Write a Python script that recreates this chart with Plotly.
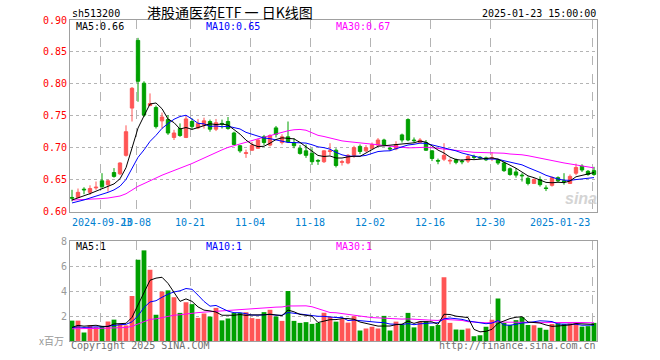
import plotly.graph_objects as go
import pandas as pd

# ---------------- data ----------------
dates = [
    "2024-09-12", "2024-09-13", "2024-09-18", "2024-09-19", "2024-09-20", "2024-09-23",
    "2024-09-24", "2024-09-25", "2024-09-26", "2024-09-27", "2024-09-30",
    "2024-10-08", "2024-10-09", "2024-10-10", "2024-10-11", "2024-10-14", "2024-10-15",
    "2024-10-16", "2024-10-17", "2024-10-18", "2024-10-21", "2024-10-22", "2024-10-23",
    "2024-10-24", "2024-10-25", "2024-10-28", "2024-10-29", "2024-10-30", "2024-10-31",
    "2024-11-01", "2024-11-04", "2024-11-05", "2024-11-06", "2024-11-07", "2024-11-08",
    "2024-11-11", "2024-11-12", "2024-11-13", "2024-11-14", "2024-11-15", "2024-11-18",
    "2024-11-19", "2024-11-20", "2024-11-21", "2024-11-22", "2024-11-25", "2024-11-26",
    "2024-11-27", "2024-11-28", "2024-11-29",
    "2024-12-02", "2024-12-03", "2024-12-04", "2024-12-05", "2024-12-06", "2024-12-09",
    "2024-12-10", "2024-12-11", "2024-12-12", "2024-12-13", "2024-12-16", "2024-12-17",
    "2024-12-18", "2024-12-19", "2024-12-20", "2024-12-23", "2024-12-24", "2024-12-25",
    "2024-12-26", "2024-12-27", "2024-12-30", "2024-12-31",
    "2025-01-02", "2025-01-03", "2025-01-06", "2025-01-07", "2025-01-08", "2025-01-09",
    "2025-01-10", "2025-01-13", "2025-01-14", "2025-01-15", "2025-01-16", "2025-01-17",
    "2025-01-20", "2025-01-21", "2025-01-22", "2025-01-23",
]

opens = [
    0.622, 0.622, 0.635, 0.630, 0.637, 0.648, 0.642, 0.661, 0.659, 0.688, 0.762,
    0.868, 0.801, 0.766, 0.763, 0.742, 0.744, 0.716, 0.730, 0.716, 0.741, 0.731,
    0.735, 0.741, 0.729, 0.738, 0.741, 0.723, 0.703, 0.691, 0.696, 0.699, 0.717,
    0.704, 0.731, 0.708, 0.717, 0.708, 0.699, 0.695, 0.691, 0.680, 0.678, 0.694,
    0.696, 0.677, 0.676, 0.688, 0.702, 0.695, 0.699, 0.704, 0.712, 0.699, 0.698,
    0.720, 0.744, 0.712, 0.708, 0.708, 0.695, 0.680, 0.682, 0.679, 0.681, 0.679,
    0.679, 0.686, 0.685, 0.684, 0.683, 0.681, 0.676, 0.667, 0.662, 0.657, 0.652,
    0.644, 0.650, 0.637, 0.641, 0.653, 0.648, 0.644, 0.660, 0.671, 0.663, 0.664,
]
highs = [
    0.634, 0.636, 0.638, 0.641, 0.647, 0.660, 0.650, 0.668, 0.677, 0.735, 0.795,
    0.872, 0.804, 0.785, 0.766, 0.755, 0.751, 0.728, 0.738, 0.751, 0.746, 0.745,
    0.747, 0.744, 0.745, 0.744, 0.748, 0.725, 0.704, 0.697, 0.709, 0.714, 0.720,
    0.721, 0.734, 0.721, 0.741, 0.715, 0.704, 0.705, 0.699, 0.682, 0.696, 0.707,
    0.699, 0.681, 0.690, 0.703, 0.705, 0.704, 0.708, 0.715, 0.714, 0.702, 0.710,
    0.722, 0.746, 0.716, 0.715, 0.712, 0.696, 0.683, 0.707, 0.683, 0.683, 0.682,
    0.689, 0.689, 0.687, 0.686, 0.693, 0.683, 0.678, 0.669, 0.668, 0.660, 0.655,
    0.652, 0.655, 0.641, 0.655, 0.655, 0.660, 0.658, 0.675, 0.674, 0.665, 0.670,
]
lows = [
    0.616, 0.621, 0.627, 0.626, 0.634, 0.636, 0.631, 0.653, 0.657, 0.686, 0.741,
    0.772, 0.748, 0.765, 0.730, 0.730, 0.720, 0.712, 0.717, 0.715, 0.729, 0.729,
    0.730, 0.725, 0.726, 0.730, 0.728, 0.704, 0.692, 0.684, 0.695, 0.698, 0.704,
    0.702, 0.716, 0.705, 0.708, 0.699, 0.689, 0.684, 0.673, 0.673, 0.676, 0.688,
    0.669, 0.672, 0.674, 0.684, 0.690, 0.693, 0.698, 0.703, 0.702, 0.695, 0.696,
    0.708, 0.710, 0.708, 0.707, 0.695, 0.679, 0.674, 0.679, 0.674, 0.674, 0.674,
    0.676, 0.682, 0.682, 0.679, 0.679, 0.673, 0.662, 0.656, 0.653, 0.647, 0.641,
    0.643, 0.639, 0.632, 0.639, 0.646, 0.642, 0.643, 0.657, 0.662, 0.656, 0.656,
]
closes = [
    0.621, 0.630, 0.634, 0.636, 0.638, 0.639, 0.648, 0.655, 0.676, 0.725, 0.793,
    0.804, 0.751, 0.769, 0.733, 0.748, 0.723, 0.723, 0.719, 0.745, 0.733, 0.738,
    0.742, 0.729, 0.739, 0.737, 0.730, 0.705, 0.695, 0.692, 0.704, 0.712, 0.708,
    0.719, 0.721, 0.717, 0.709, 0.703, 0.691, 0.688, 0.678, 0.679, 0.695, 0.695,
    0.672, 0.678, 0.688, 0.700, 0.694, 0.700, 0.705, 0.712, 0.704, 0.698, 0.705,
    0.712, 0.712, 0.711, 0.712, 0.696, 0.683, 0.679, 0.688, 0.680, 0.677, 0.678,
    0.686, 0.685, 0.684, 0.681, 0.684, 0.676, 0.664, 0.658, 0.657, 0.656, 0.644,
    0.650, 0.642, 0.636, 0.653, 0.648, 0.647, 0.655, 0.669, 0.665, 0.658, 0.658,
]
# volume, millions of shares
volumes = [
    1.63, 1.63, 0.68, 1.25, 1.10, 1.20, 1.56, 1.71, 1.35, 1.25, 3.60,
    6.50, 7.25, 5.70, 2.10, 3.95, 4.05, 3.50, 2.25, 3.10, 2.95, 1.85,
    2.20, 1.95, 2.65, 1.65, 1.80, 2.25, 2.25, 2.30, 1.83, 1.77, 2.31,
    2.50, 1.96, 1.61, 4.00, 1.61, 1.45, 1.51, 1.37, 1.45, 2.26, 1.94,
    1.55, 1.75, 1.47, 1.98, 0.84, 1.00, 1.14, 1.00, 2.01, 0.84, 1.55,
    1.32, 2.25, 1.09, 1.55, 1.58, 1.19, 1.28, 5.10, 1.45, 0.92, 0.90,
    1.00, 0.38, 0.46, 1.14, 1.70, 3.40, 1.45, 1.28, 1.67, 1.91, 1.28,
    1.26, 1.06, 0.90, 1.36, 1.41, 1.36, 1.41, 1.43, 1.15, 1.19, 1.45,
]
# estimated history before the first shown day (only used by the moving averages)
prior_closes = [
    0.622, 0.620, 0.618, 0.621, 0.624, 0.623, 0.620, 0.617, 0.619, 0.622,
    0.625, 0.623, 0.621, 0.618, 0.616, 0.619, 0.621, 0.620, 0.618, 0.615,
    0.610, 0.607, 0.606, 0.609, 0.612, 0.615, 0.617, 0.618, 0.619,
]
prior_volumes = [
    0.9, 1.1, 0.8, 1.0, 0.9, 1.2, 0.8, 0.9, 1.0, 0.7,
    0.9, 1.1, 0.8, 0.9, 1.0, 0.8, 0.9, 1.2, 0.8, 0.9,
    1.0, 1.1, 0.9, 1.0, 1.2, 0.8, 1.0, 1.1, 0.9,
]
tick_dates = ["2024-09-23", "2024-10-08", "2024-10-21", "2024-11-04", "2024-11-18",
              "2024-12-02", "2024-12-16", "2024-12-30", "2025-01-23"]
tick_labels = ["2024-09-23", "10-08", "10-21", "11-04", "11-18",
               "12-02", "12-16", "12-30", "2025-01-23"]
price_ticks = [0.60, 0.65, 0.70, 0.75, 0.80, 0.85, 0.90]
volume_ticks = [2, 4, 6, 8]

# ---------------- derived ----------------
RED = "#FF5555"
GREEN = "#00A000"
MONO = "DejaVu Sans Mono"
n = len(dates)
idx = list(range(n))

cs = pd.Series(prior_closes + closes)
vs = pd.Series(prior_volumes + volumes)
ma = {w: cs.rolling(w).mean().iloc[-n:].tolist() for w in (5, 10, 30)}
vma = {w: vs.rolling(w).mean().iloc[-n:].tolist() for w in (5, 10, 30)}
vol_colors = [RED if c >= o else GREEN for o, c in zip(opens, closes)]

W, H = 660, 360
L, R, T, B = 70, 63, 20, 19
PW, PH = W - L - R, H - T - B


def pxx(x):  # window pixel -> paper fraction
    return (x - L) / PW


def pyy(y):
    return (H - B - y) / PH


xr = [-0.333, n - 0.5]
grid_x = [dates.index(d) - 0.33 for d in tick_dates]

fig = go.Figure()
fig.add_trace(go.Candlestick(
    x=idx, open=opens, high=highs, low=lows, close=closes,
    increasing=dict(line=dict(color=RED, width=1), fillcolor=RED),
    decreasing=dict(line=dict(color=GREEN, width=1), fillcolor=GREEN),
    whiskerwidth=0, showlegend=False, hoverinfo="skip", xaxis="x", yaxis="y"))
ma_colors = {5: "#000000", 10: "#0000FF", 30: "#FF00FF"}
for w in (30, 10, 5):
    fig.add_trace(go.Scatter(x=idx, y=ma[w], mode="lines",
                             line=dict(color=ma_colors[w], width=1),
                             showlegend=False, hoverinfo="skip", xaxis="x", yaxis="y"))
fig.add_trace(go.Bar(x=idx, y=volumes, marker=dict(color=vol_colors, line=dict(width=0)),
                     width=0.8, showlegend=False, hoverinfo="skip", xaxis="x2", yaxis="y2"))
for w in (30, 10, 5):
    fig.add_trace(go.Scatter(x=idx, y=vma[w], mode="lines",
                             line=dict(color=ma_colors[w], width=1),
                             showlegend=False, hoverinfo="skip", xaxis="x2", yaxis="y2"))

axis_common = dict(showline=True, linecolor="#A0A0A0", linewidth=1, mirror=True,
                   zeroline=False, fixedrange=True)
fig.update_layout(
    width=W, height=H, margin=dict(l=L, r=R, t=T, b=B, autoexpand=False),
    paper_bgcolor="white", plot_bgcolor="white", boxgap=0.2, bargap=0.2,
    hovermode=False,
    xaxis=dict(domain=[0, 1], anchor="y", range=xr, tickvals=grid_x, showticklabels=False,
               showgrid=True, gridcolor="#B4B4B4", griddash="dash", gridwidth=1, ticks="",
               rangeslider=dict(visible=False), **axis_common),
    yaxis=dict(domain=[pyy(211.5), 1], anchor="x", range=[0.60, 0.90], tickvals=price_ticks,
               ticktext=["%.2f" % v for v in price_ticks], showgrid=True, gridcolor="#B4B4B4",
               griddash="dot", tickfont=dict(family=MONO, size=10, color="#FF0000"), ticks="",
               **axis_common),
    xaxis2=dict(domain=[0, 1], anchor="y2", range=xr, tickvals=grid_x, showticklabels=False,
                showgrid=True, gridcolor="#B4B4B4", griddash="dash", ticks="", **axis_common),
    yaxis2=dict(domain=[0, pyy(241)], anchor="x2", range=[0, 8], tickvals=volume_ticks,
                ticktext=[str(v) for v in volume_ticks], showgrid=True, gridcolor="#B4B4B4",
                griddash="dot", tickfont=dict(family=MONO, size=10, color="#999999"), ticks="",
                **axis_common),
)

ann = []


def text(x, y, s, color="#000000", size=10, anchor="left", family=MONO, xref="paper"):
    ann.append(dict(x=x, y=y, xref=xref, yref="paper", text=s, showarrow=False,
                    xanchor=anchor, yanchor="middle",
                    font=dict(family=family, size=size, color=color)))


text(pxx(70), pyy(13), "sh513200")
text(pxx(230), pyy(12), "港股通医药ETF 一 日K线图", size=14, anchor="center",
     family="Noto Sans CJK SC")
text(pxx(598), pyy(13), "2025-01-23 15:00:00", anchor="right")
text(pxx(74), pyy(26), "MA5:%.2f" % ma[5][-1], color="#000000")
text(pxx(204), pyy(26), "MA10:%.2f" % ma[10][-1], color="#0000FF")
text(pxx(334), pyy(26), "MA30:%.2f" % ma[30][-1], color="#FF00FF")
text(pxx(74), pyy(246), "MA5:%.0f" % vma[5][-1], color="#000000")
text(pxx(204), pyy(246), "MA10:%.0f" % vma[10][-1], color="#0000FF")
text(pxx(334), pyy(246), "MA30:%.0f" % vma[30][-1], color="#FF00FF")
text(pxx(66), pyy(340), "x百万", color="#999999", anchor="right", family="Noto Sans CJK SC")
text(pxx(69), pyy(346), "Copyright 2025 SINA.COM", color="#707070")
text(pxx(598), pyy(346), "http://finance.sina.com.cn", color="#707070", anchor="right")
text(pxx(581), pyy(199), "<b><i>sina</i></b>", color="#D4D4D4", size=16, anchor="center",
     family="Liberation Sans")
# date labels on the lower edge of the price panel
for i, (gx, lab) in enumerate(zip(grid_x, tick_labels)):
    if i == 0:
        x, a = xr[0], "left"
    elif i == len(tick_labels) - 1:
        x, a = gx, "right"
    else:
        x, a = gx, "center"
    text(x, pyy(222), lab, color="#0080D0", anchor=a, xref="x")

fig.update_layout(annotations=ann)
# remove the default 8px page margin so the figure fills the 660x360 window exactly
fig.write_html("out.html", config={"displayModeBar": False},
               post_script="document.body.style.margin='0';")
